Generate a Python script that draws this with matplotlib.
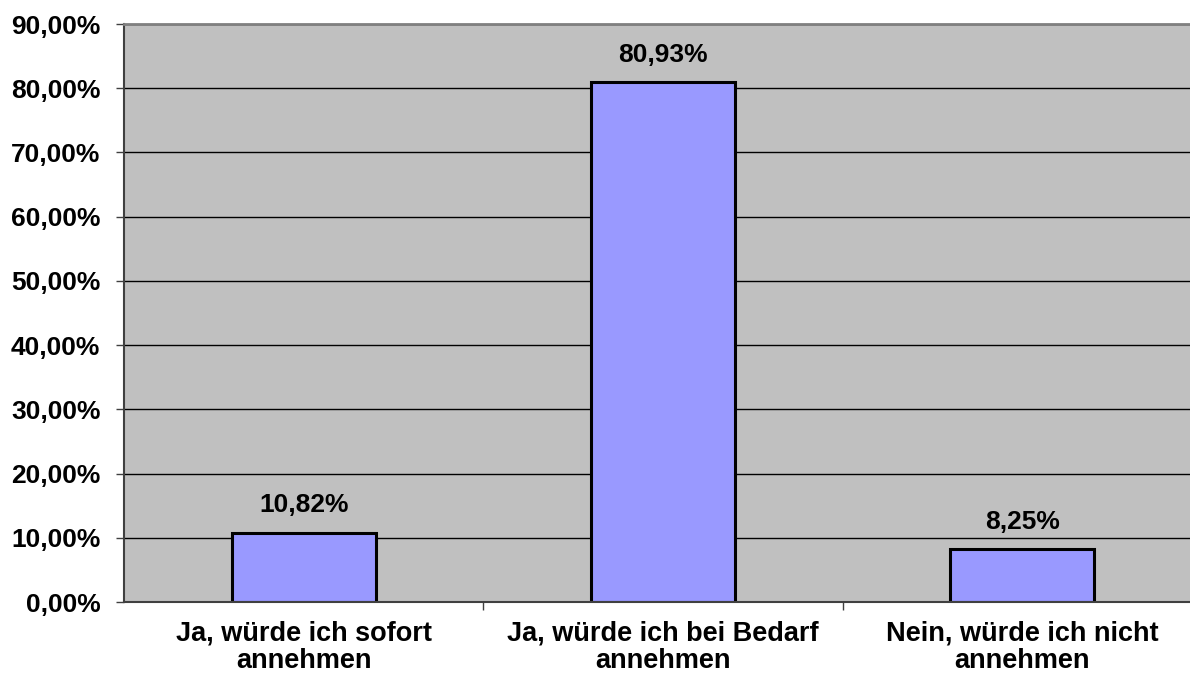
import numpy as np
from matplotlib import pyplot as plt
from matplotlib.ticker import FixedLocator

categories = ['Ja, würde ich sofort\nannehmen',
              'Ja, würde ich bei Bedarf\nannehmen',
              'Nein, würde ich nicht\nannehmen']
values = [10.82, 80.93, 8.25]
value_labels = ['10,82%', '80,93%', '8,25%']
yticks = [0, 10, 20, 30, 40, 50, 60, 70, 80, 90]
ytick_labels = ['0,00%', '10,00%', '20,00%', '30,00%', '40,00%',
                '50,00%', '60,00%', '70,00%', '80,00%', '90,00%']

plt.rcParams['font.family'] = ['Liberation Sans', 'DejaVu Sans']
plt.rcParams['font.weight'] = 'bold'

fig = plt.figure(figsize=(11.9, 6.75), dpi=100)
ax = fig.add_axes([124 / 1190, 73 / 675, 1078 / 1190, 578 / 675])
ax.set_facecolor('#c0c0c0')

x = np.arange(len(categories))
bars = ax.bar(x, values, width=0.4, color='#9999ff', edgecolor='black',
              linewidth=2.2, zorder=3)

# value labels above bars
for b, lab in zip(bars, value_labels):
    ax.annotate(lab, (b.get_x() + b.get_width() / 2, b.get_height()),
                xytext=(0, 11), textcoords='offset points',
                ha='center', va='bottom', fontsize=19, fontweight='bold')

ax.set_xlim(-0.5, len(categories) - 0.5)
ax.set_ylim(0, 90)
ax.set_yticks(yticks)
ax.set_yticklabels(ytick_labels, fontsize=19, fontweight='bold')
ax.yaxis.grid(True, color='black', linewidth=1.0, zorder=1)
ax.set_axisbelow(True)

ax.set_xticks(x)
ax.set_xticklabels(categories, fontsize=19.5, fontweight='bold', linespacing=1.12)
ax.tick_params(axis='x', which='major', length=0, pad=13)
ax.xaxis.set_minor_locator(FixedLocator([0.5, 1.5]))
ax.tick_params(axis='x', which='minor', length=6, width=1, color='#404040')
ax.tick_params(axis='y', length=6, width=1, color='#404040', pad=11)

for s in ['right', 'bottom']:
    ax.spines[s].set_visible(False)
ax.spines['left'].set_color('#404040')
ax.spines['left'].set_linewidth(1.5)
ax.spines['top'].set_color('#808080')
ax.spines['top'].set_linewidth(2)
ax.axhline(0, color='#404040', linewidth=1.5, zorder=4, clip_on=False)

fig.savefig('out.png', dpi=100)
